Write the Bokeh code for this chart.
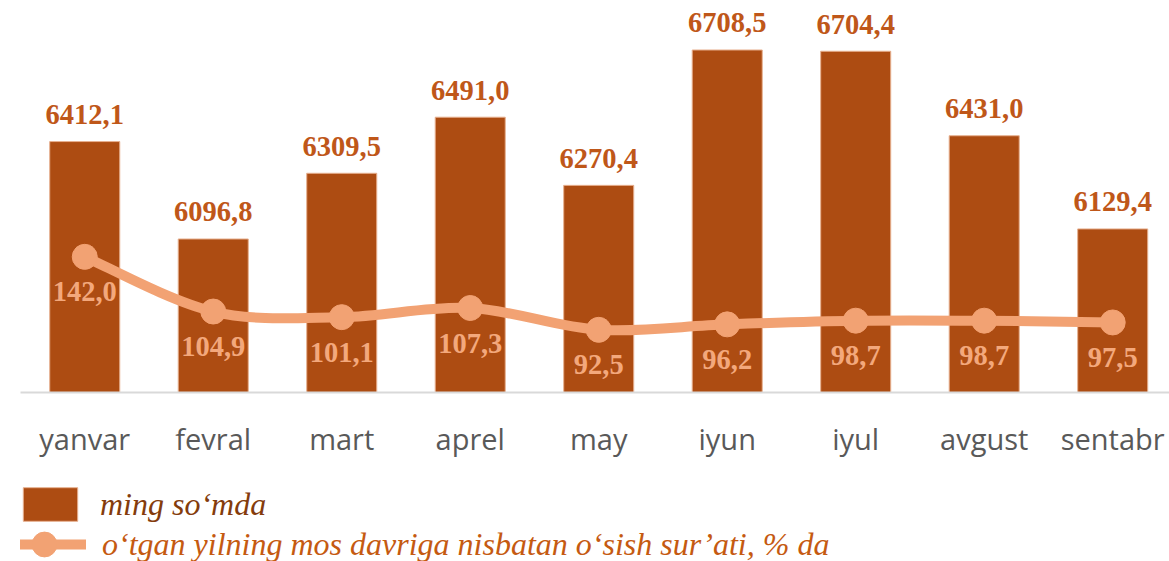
import numpy as np
from bokeh.plotting import figure
from bokeh.layouts import column
from bokeh.models import (Range1d, FixedTicker, ColumnDataSource, Legend, LegendItem)
from bokeh.core.properties import value
from bokeh.embed import file_html
from bokeh.resources import INLINE

months = ["yanvar", "fevral", "mart", "aprel", "may", "iyun", "iyul", "avgust", "sentabr"]
amount = [6412.1, 6096.8, 6309.5, 6491.0, 6270.4, 6708.5, 6704.4, 6431.0, 6129.4]
growth = [142.0, 104.9, 101.1, 107.3, 92.5, 96.2, 98.7, 98.7, 97.5]
amount_labels = ["6412,1", "6096,8", "6309,5", "6491,0", "6270,4", "6708,5", "6704,4", "6431,0", "6129,4"]
growth_labels = ["142,0", "104,9", "101,1", "107,3", "92,5", "96,2", "98,7", "98,7", "97,5"]
legend_bar = "ming so‘mda"
legend_line = "o‘tgan yilning mos davriga nisbatan o‘sish sur’ati, % da"

BAR = "#AD4C12"
BAR_TXT = "#BF5719"
LINE = "#F2A273"
LINE_TXT = "#F3A87C"

x = list(range(len(months)))
src = ColumnDataSource(dict(x=x, amount=amount, growth=growth,
                            al=amount_labels, gl=growth_labels))

p = figure(width=1169, height=470, output_backend="svg", toolbar_location=None,
           x_range=Range1d(-0.5, 8.442), y_range=Range1d(5600, 6842.8),
           min_border_left=20, min_border_right=0, min_border_top=8,
           min_border_bottom=78)
p.extra_y_ranges = {"g": Range1d(50, 310.4)}
p.outline_line_color = None
p.xgrid.visible = False
p.ygrid.visible = False
p.yaxis.visible = False

xa = p.xaxis[0]
xa.ticker = FixedTicker(ticks=x)
xa.major_label_overrides = {i: m for i, m in enumerate(months)}
xa.major_tick_line_color = None
xa.minor_tick_line_color = None
xa.axis_line_color = "#D9D9D9"
xa.axis_line_width = 2
xa.major_label_text_font = "Open Sans"
xa.major_label_text_font_size = "29px"
xa.major_label_text_color = "#595959"
xa.major_label_standoff = 20

p.vbar(x="x", top="amount", bottom=5600, width=0.545, source=src,
       fill_color=BAR, line_color="#E7B08F", line_width=1)

p.text(x="x", y="amount", text="al", source=src, text_align="center",
       text_baseline="alphabetic", y_offset=-27, text_color=BAR_TXT,
       text_font=value("Liberation Serif"), text_font_style="bold",
       text_font_size="28.5px")

# smooth curve through the points (Catmull-Rom -> Bezier)
xs = np.array(x, dtype=float)
ys = np.array(growth, dtype=float)
n = len(xs)
x0, y0, x1, y1, cx0, cy0, cx1, cy1 = [], [], [], [], [], [], [], []
for i in range(n - 1):
    pm = max(i - 1, 0)
    pp = min(i + 2, n - 1)
    x0.append(xs[i]); y0.append(ys[i]); x1.append(xs[i + 1]); y1.append(ys[i + 1])
    cx0.append(xs[i] + (xs[i + 1] - xs[pm]) / 6.0)
    cy0.append(ys[i] + (ys[i + 1] - ys[pm]) / 6.0)
    cx1.append(xs[i + 1] - (xs[pp] - xs[i]) / 6.0)
    cy1.append(ys[i + 1] - (ys[pp] - ys[i]) / 6.0)
p.bezier(x0=x0, y0=y0, x1=x1, y1=y1, cx0=cx0, cy0=cy0, cx1=cx1, cy1=cy1,
         line_color=LINE, line_width=10, y_range_name="g")
p.scatter(x="x", y="growth", source=src, size=25, fill_color=LINE,
          line_color=LINE, y_range_name="g")

p.text(x="x", y="growth", text="gl", source=src, text_align="center",
       text_baseline="alphabetic", y_offset=35, text_color=LINE_TXT,
       text_font=value("Liberation Serif"), text_font_style="bold",
       text_font_size="28.5px", y_range_name="g")

# legend figure
q = figure(width=1169, height=91, output_backend="svg", toolbar_location=None,
           x_range=Range1d(0, 1), y_range=Range1d(0, 1),
           min_border_left=0, min_border_right=0, min_border_top=0, min_border_bottom=0)
q.axis.visible = False
q.grid.visible = False
q.outline_line_color = None
hidden = ColumnDataSource(dict(x=[-10], y=[-10]))
rb = q.vbar(x="x", top="y", width=0.5, source=hidden, fill_color=BAR, line_color="#E7B08F")
rl = q.line(x="x", y="y", source=hidden, line_color=LINE, line_width=10)
rs = q.scatter(x="x", y="y", source=hidden, size=25, fill_color=LINE, line_color=LINE)

leg1 = Legend(items=[LegendItem(label=legend_bar, renderers=[rb])],
              location=(-4, 36), margin=0, padding=0, glyph_width=68, glyph_height=42,
              label_standoff=16, label_text_font="Liberation Serif",
              label_text_font_style="italic", label_text_font_size="32px",
              label_text_color="#843C0C", border_line_color=None,
              background_fill_alpha=0, label_height=42)
leg2 = Legend(items=[LegendItem(label=legend_line, renderers=[rl, rs])],
              location=(-18, -14), margin=0, padding=0, glyph_width=84, glyph_height=62,
              label_standoff=16, label_text_font="Liberation Serif",
              label_text_font_style="italic", label_text_font_size="32px",
              label_text_color="#C55A11", border_line_color=None,
              background_fill_alpha=0, label_height=62)
q.add_layout(leg1)
q.add_layout(leg2)

open("out.html", "w").write(file_html(column(p, q, spacing=0), INLINE))
